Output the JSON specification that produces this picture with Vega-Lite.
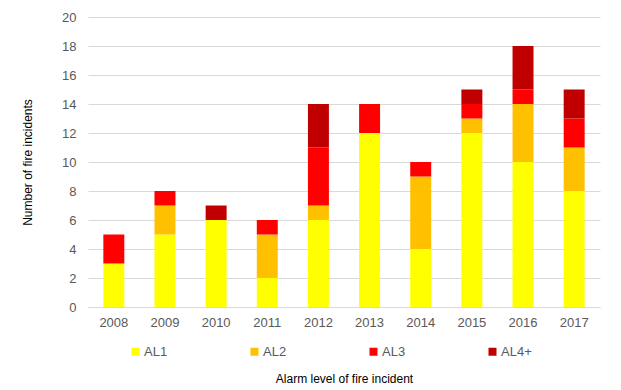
{
  "$schema": "https://vega.github.io/schema/vega-lite/v6.json",
  "width": 512,
  "height": 290,
  "autosize": {"type": "none"},
  "padding": {"left": 88, "top": 17, "right": 21, "bottom": 83},
  "background": "white",
  "config": {
    "font": "Liberation Sans",
    "view": {"stroke": null}
  },
  "data": {
    "values": [
      {"year": "2008", "level": "AL1", "o": 1, "count": 3},
      {"year": "2008", "level": "AL3", "o": 3, "count": 2},
      {"year": "2009", "level": "AL1", "o": 1, "count": 5},
      {"year": "2009", "level": "AL2", "o": 2, "count": 2},
      {"year": "2009", "level": "AL3", "o": 3, "count": 1},
      {"year": "2010", "level": "AL1", "o": 1, "count": 6},
      {"year": "2010", "level": "AL4+", "o": 4, "count": 1},
      {"year": "2011", "level": "AL1", "o": 1, "count": 2},
      {"year": "2011", "level": "AL2", "o": 2, "count": 3},
      {"year": "2011", "level": "AL3", "o": 3, "count": 1},
      {"year": "2012", "level": "AL1", "o": 1, "count": 6},
      {"year": "2012", "level": "AL2", "o": 2, "count": 1},
      {"year": "2012", "level": "AL3", "o": 3, "count": 4},
      {"year": "2012", "level": "AL4+", "o": 4, "count": 3},
      {"year": "2013", "level": "AL1", "o": 1, "count": 12},
      {"year": "2013", "level": "AL3", "o": 3, "count": 2},
      {"year": "2014", "level": "AL1", "o": 1, "count": 4},
      {"year": "2014", "level": "AL2", "o": 2, "count": 5},
      {"year": "2014", "level": "AL3", "o": 3, "count": 1},
      {"year": "2015", "level": "AL1", "o": 1, "count": 12},
      {"year": "2015", "level": "AL2", "o": 2, "count": 1},
      {"year": "2015", "level": "AL3", "o": 3, "count": 1},
      {"year": "2015", "level": "AL4+", "o": 4, "count": 1},
      {"year": "2016", "level": "AL1", "o": 1, "count": 10},
      {"year": "2016", "level": "AL2", "o": 2, "count": 4},
      {"year": "2016", "level": "AL3", "o": 3, "count": 1},
      {"year": "2016", "level": "AL4+", "o": 4, "count": 3},
      {"year": "2017", "level": "AL1", "o": 1, "count": 8},
      {"year": "2017", "level": "AL2", "o": 2, "count": 3},
      {"year": "2017", "level": "AL3", "o": 3, "count": 2},
      {"year": "2017", "level": "AL4+", "o": 4, "count": 2}
    ]
  },
  "mark": {"type": "bar"},
  "encoding": {
    "x": {
      "field": "year",
      "type": "nominal",
      "scale": {"paddingInner": 0.59, "paddingOuter": 0.3},
      "axis": {
        "title": "Alarm level of fire incident",
        "titleFont": "Liberation Sans",
        "titleFontSize": 12,
        "titleFontWeight": "normal",
        "titleColor": "#000000",
        "titlePadding": 44,
        "labelAngle": 0,
        "labelFontSize": 13,
        "labelColor": "#595959",
        "labelPadding": 9,
        "ticks": false,
        "domainColor": "#d9d9d9",
        "domainWidth": 1
      }
    },
    "y": {
      "field": "count",
      "type": "quantitative",
      "stack": "zero",
      "scale": {"domain": [0, 20], "nice": false},
      "axis": {
        "title": "Number of fire incidents",
        "titleFont": "Liberation Sans",
        "titleFontSize": 12,
        "titleFontWeight": "normal",
        "titleColor": "#000000",
        "titlePadding": 27,
        "values": [0, 2, 4, 6, 8, 10, 12, 14, 16, 18, 20],
        "labelFontSize": 13,
        "labelColor": "#595959",
        "labelPadding": 12,
        "ticks": false,
        "domain": false,
        "gridColor": "#d9d9d9",
        "gridWidth": 1
      }
    },
    "color": {
      "field": "level",
      "type": "nominal",
      "scale": {
        "domain": ["AL1", "AL2", "AL3", "AL4+"],
        "range": ["#FFFF00", "#FFC000", "#FF0000", "#C00000"]
      },
      "legend": {
        "title": null,
        "orient": "none",
        "legendX": 41,
        "legendY": 328,
        "direction": "horizontal",
        "columns": 4,
        "gridAlign": "all",
        "columnPadding": 73,
        "symbolType": "square",
        "symbolSize": 64,
        "symbolStrokeWidth": 0,
        "labelFontSize": 13,
        "labelColor": "#595959",
        "labelOffset": 2
      }
    },
    "order": {"field": "o", "type": "quantitative", "sort": "ascending"}
  }
}
